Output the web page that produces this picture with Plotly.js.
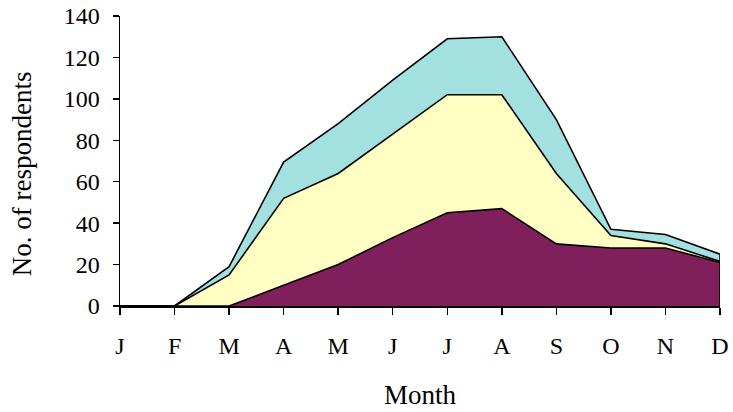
<!DOCTYPE html>
<html>
<head>
<meta charset="utf-8">
<script src="https://cdn.plot.ly/plotly-3.0.1.min.js"></script>
<style>html,body{margin:0;padding:0;background:#fff;}#chart{width:733px;height:412px;}</style>
</head>
<body>
<div id="chart"></div>
<script>
var months = ["J","F","M","A","M ","J ","J  ","A ","S","O","N","D"];
var tickLabels = ["J","F","M","A","M","J","J","A","S","O","N","D"];
var seriesBottom = [0,0,0,10,20,33,45,47,30,28,28,21];
var seriesMiddle = [0,0,15,42,44,50,57,55,34,6,2,0.5];
var seriesTop = [0,0,4,17.5,24,26,27,28,26,3,4.5,3.5];
var yTitle = "No. of respondents";
var xTitle = "Month";

var lineStyle = {color:"#000000", width:1.6};
var traces = [
  {x:months, y:seriesBottom, type:"scatter", mode:"lines", stackgroup:"one", line:lineStyle, fillcolor:"#7f1f5b", hoverinfo:"skip"},
  {x:months, y:seriesMiddle, type:"scatter", mode:"lines", stackgroup:"one", line:lineStyle, fillcolor:"#ffffc3", hoverinfo:"skip"},
  {x:months, y:seriesTop, type:"scatter", mode:"lines", stackgroup:"one", line:lineStyle, fillcolor:"#a3e0e0", hoverinfo:"skip"}
];
var last = months.length - 1;
var lastTotal = seriesBottom[last] + seriesMiddle[last] + seriesTop[last];
traces.push({x:[months[last], months[last]], y:[0, lastTotal], type:"scatter", mode:"lines", line:lineStyle, showlegend:false, hoverinfo:"skip"});

var fam = "'Liberation Serif', 'Times New Roman', serif";
var tickFont = {family:fam, size:24, color:"#000"};
var titleFont = {family:fam, size:27, color:"#000"};
var layout = {
  width:733, height:412,
  margin:{l:120, r:13, t:16, b:106},
  paper_bgcolor:"#fff", plot_bgcolor:"#fff",
  showlegend:false,
  font:tickFont,
  xaxis:{
    type:"category", categoryorder:"array", categoryarray:months,
    tickvals:months, ticktext:tickLabels,
    range:[0, last],
    showline:true, linecolor:"#000", linewidth:1.5,
    ticks:"outside", ticklen:7, tickcolor:"#000", tickwidth:1.5,
    showgrid:false, zeroline:false,
    tickfont:tickFont, ticklabelstandoff:11,
    title:{text:xTitle, font:titleFont, standoff:27}
  },
  yaxis:{
    range:[0,140], dtick:20, tick0:0,
    showline:true, linecolor:"#000", linewidth:1.5,
    ticks:"outside", ticklen:6, tickcolor:"#000", tickwidth:1.5,
    showgrid:false, zeroline:false,
    tickfont:tickFont, ticklabelstandoff:8
  },
  annotations:[{
    text:yTitle, xref:"paper", yref:"paper", x:-0.162, y:0.457,
    xanchor:"center", yanchor:"middle", textangle:-90, showarrow:false,
    font:titleFont
  }]
};
Plotly.newPlot("chart", traces, layout, {displayModeBar:false, staticPlot:true});
</script>
</body>
</html>
